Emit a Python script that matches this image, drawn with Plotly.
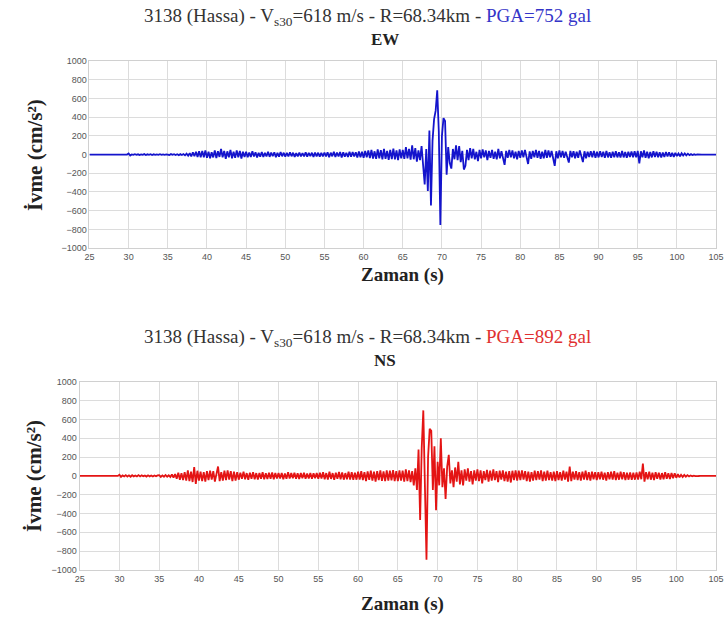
import numpy as np
import plotly.graph_objects as go

# sampling of the digitised records (s)
t_start = 25.0
dt = 0.2

# EW component (cm/s2), one row = 5 s
ew = [
    0, 0, 0, 0, 0, 0, 0, 0, 0, 0, 0, 0, 0, 0, 0, 0, 0, 0, 0, 0, 0, 0, 0, 0, 0,
    12, -10, 2, -3, 4, -2, 3, -4, 2, -3, 5, -4, 3, -2, 4, -5, 3, -2, 2, -3, 4, -3, 2, -2, 3,
    3, -4, 5, -3, 4, -5, 3, -6, 5, -4, 6, -8, 10, -12, 15, -20, 25, -18, 30, -25, 35, -30, 40, -28, 45,
    -35, 30, -40, 25, -30, 45, -38, 35, -25, 60, -30, 40, -45, 35, -30, 50, -40, 30, -35, 45, -28, 38, -42, 30, -25,
    30, -28, 22, -25, 35, -20, 25, -30, 20, -22, 28, -25, 18, -20, 30, -24, 22, -18, 25, -28, 20, -22, 26, -18, 20,
    -22, 18, -20, 25, -18, 20, -24, 16, -20, 22, -18, 15, -20, 24, -22, 18, -16, 20, -25, 22, -18, 20, -22, 18, -20,
    22, -20, 25, -28, 20, -18, 30, -25, 22, -20, 28, -30, 25, -22, 20, -26, 30, -24, 28, -20, 25, -30, 32, -28, 30,
    -35, 40, -30, 45, -38, 50, -42, 35, -45, 55, -40, 48, -50, 60, -45, 40, -55, 50, -48, 65, -50, 45, -60, 55, -40,
    50, -45, 80, -40, 60, -55, 100, -50, 70, -75, 45, -60, 90, -110, -320, 60, -390, 257, -545, 150, 380, 470, 687, 250, -753,
    200, 390, 360, -215, 80, -90, -150, 60, -50, 100, -60, 90, -80, 40, -160, -120, 50, -60, 70, -40, 60, -50, 30, -70, 50,
    -40, 55, -30, 45, -60, 40, -35, 50, -45, 30, -50, 60, -40, 35, -45, -110, 40, -35, 50, -30, 45, -40, 30, -50, 40,
    -35, 45, -30, 50, -40, -100, 35, -45, 40, -30, 50, -35, 40, -45, 30, -40, 50, -35, 45, -30, 40, -45, -120, 35, -40,
    45, -30, 40, -35, 30, -45, -85, 40, -30, 35, -40, 30, -35, 45, -30, -80, 35, -40, 30, -25, 35, -30, 40, -35, 30,
    -30, 35, -25, 30, -35, 40, -30, 25, -35, 30, -28, 35, -30, 25, -32, 38, -30, 28, -35, 30, -25, 32, -28, 35, -30,
    40, -95, 35, -30, 45, -35, 30, -40, 28, -30, 35, -25, 30, -28, 25, -30, 22, -25, 28, -20, 25, -22, 20, -25, 18,
    -15, 12, -18, 14, -10, 12, -8, 10, -6, 5, -4, 3, -2, 2, -1, 1, 0, 0, 0, 0, 0, 0, 0, 0, 0,
    0,
]

# NS component (cm/s2)
ns = [
    0, 0, 0, 0, 0, 0, 0, 0, 0, 0, 0, 0, 0, 0, 0, 0, 0, 0, 0, 0, 0, 0, 0, 0, 0,
    12, -10, 5, -6, 8, -7, 6, -9, 7, -5, 4, -6, 8, -5, 6, -4, 5, -7, 6, -5, 4, -6, 5, -4, 6,
    8, -10, 6, -8, 10, -9, 7, -12, 15, -18, 20, -30, 35, -40, 30, -45, 40, -50, 60, -55, 45, -65, 95, -85, 55,
    -50, 45, -55, 40, -60, 50, -45, 55, -40, 50, -60, 45, 100, -55, 40, -50, 55, -45, 60, -40, 50, -55, 45, -50, 40,
    -40, 35, -30, 45, -35, 30, -40, 35, -30, 40, -35, 30, -38, 32, -30, 40, -35, 28, -32, 35, -30, 38, -35, 30, -28,
    32, -28, 30, -35, 25, -30, 40, -28, 30, -25, 35, -30, 28, -32, 30, -26, 35, -30, 25, -28, 32, -30, 28, -25, 30,
    -30, 35, -28, 40, -35, 30, -38, 45, -32, 30, -40, 35, -30, 42, -35, 38, -40, 30, -35, 45, -38, 40, -42, 35, -40,
    45, -40, 50, -45, 40, -55, 48, -42, 55, -50, 45, -60, 50, -45, 58, -52, 48, -55, 60, -50, 55, -48, 62, -55, 50,
    -55, 60, -50, 55, -60, 70, -55, 60, -65, 50, -100, 80, -150, 280, -470, 300, 697, -300, -892, 200, 500, 480, -150, 315, -365,
    150, -100, 400, -120, 80, -245, 100, 225, -80, 60, -120, 90, -60, 150, -90, 60, -100, 70, -50, 80, -60, 50, -90, 60, -50,
    70, -55, 60, -80, 50, -45, 65, -60, 55, -50, 70, -45, 50, -65, 55, -40, 60, -55, 45, -60, 50, -70, 55, -45, 60,
    -50, 55, -45, 60, -40, 50, -55, 45, -60, 40, -50, 55, -45, 50, -40, 60, -55, 45, -50, 55, -45, 40, -50, 45, -55,
    50, -45, 40, -50, 55, -40, 45, -60, 100, -55, 45, -40, 50, -45, 40, -50, 45, -40, 55, -45, 40, -50, 45, -35, 40,
    -45, 40, -35, 45, -40, 35, -50, 40, -35, 45, -40, 50, -45, 35, -40, 45, -35, 40, -45, 35, -40, 38, -42, 35, -40,
    38, -40, 45, -35, 130, -60, 40, -35, 45, -40, 35, -45, 40, -30, 35, -38, 30, -35, 40, -30, 28, -32, 30, -25, 28,
    -20, 18, -15, 12, -12, 10, -8, 8, -6, 5, -4, 3, -3, 2, -1, 1, 0, 0, 0, 0, 0, 0, 0, 0, 0,
    0,
]

x_ticks = list(range(25, 106, 5))
y_ticks = list(range(-1000, 1001, 200))

station = "3138 (Hassa) - V<sub>s30</sub>=618 m/s - R=68.34km - "
pga_ew = "PGA=752 gal"
pga_ns = "PGA=892 gal"

t = np.round(t_start + dt * np.arange(len(ew)), 1)

W, H = 728, 631
top_dom_y = [1 - 247 / H, 1 - 57 / H]
bot_dom_y = [1 - 574 / H, 1 - 383 / H]
top_dom_x = [86 / W, 724 / W]
bot_dom_x = [76 / W, 724 / W]

fig = go.Figure()
fig.add_trace(go.Scatter(x=t, y=ew, mode="lines", line=dict(color="#1414cc", width=1.8),
                         xaxis="x", yaxis="y", showlegend=False))
fig.add_trace(go.Scatter(x=t, y=ns, mode="lines", line=dict(color="#e41414", width=1.8),
                         xaxis="x2", yaxis="y2", showlegend=False))

tickfont = dict(family="Liberation Sans", size=9, color="#555")
xcommon = dict(range=[25, 105], tickvals=x_ticks, showgrid=True, gridcolor="#dcdcdc",
               showline=True, linecolor="#d0d0d0", mirror=True, zeroline=False,
               tickfont=tickfont, ticks="", ticklabeloverflow="allow")
ycommon = dict(range=[-1000, 1000], tickvals=y_ticks, showgrid=True, gridcolor="#dcdcdc",
               showline=True, linecolor="#d0d0d0", mirror=True, zeroline=False,
               tickfont=tickfont, ticks="")

layout = dict(
    width=W, height=H, margin=dict(l=0, r=0, t=0, b=0),
    paper_bgcolor="white", plot_bgcolor="white",
    xaxis=dict(domain=top_dom_x, anchor="y", **xcommon),
    yaxis=dict(domain=top_dom_y, anchor="x", **ycommon),
    xaxis2=dict(domain=bot_dom_x, anchor="y2", **xcommon),
    yaxis2=dict(domain=bot_dom_y, anchor="x2", **ycommon),
)

# category axis drawn through zero with crossing tick marks
zaxes = {}
n = 3
for base, dom_x, dom_y in [("x", top_dom_x, top_dom_y), ("x2", bot_dom_x, bot_dom_y)]:
    for tk in ["outside", "inside"]:
        zaxes["xaxis%d" % n] = dict(overlaying=base, anchor="free", position=(dom_y[0] + dom_y[1]) / 2,
                                    domain=dom_x, range=[25, 105], tickvals=x_ticks, ticks=tk, ticklen=4,
                                    tickcolor="#333", showline=True, linecolor="#333", linewidth=1,
                                    showgrid=False, zeroline=False, showticklabels=False,
                                    layer="below traces")
        n += 1
layout.update(zaxes)
fig.update_layout(**layout)

serif = "Liberation Serif"
ann = []
for y_t, y_c, y_z, y_lab, pga, col, comp in [
    (1 - 12 / H, 1 - 35 / H, 1 - 274 / H, 1 - 152 / H, pga_ew, "#3434c8", "EW"),
    (1 - 338 / H, 1 - 361 / H, 1 - 609 / H, 1 - 478 / H, pga_ns, "#e03030", "NS"),
]:
    ann.append(dict(text=station + "<span style='color:%s'>%s</span>" % (col, pga),
                    x=369 / W, y=y_t, font=dict(family=serif, size=19, color="#333")))
    ann.append(dict(text="<b>%s</b>" % comp, x=387 / W, y=y_c,
                    font=dict(family=serif, size=17, color="#222")))
    ann.append(dict(text="<b>Zaman (s)</b>", x=405 / W, y=y_z,
                    font=dict(family=serif, size=19, color="#222")))
    ann.append(dict(text="<b>İvme (cm/s²)</b>", x=30 / W, y=y_lab, textangle=-90,
                    font=dict(family=serif, size=21, color="#222")))
for a in ann:
    a.update(xref="paper", yref="paper", showarrow=False, xanchor="center", yanchor="middle")
fig.update_layout(annotations=ann)

fig.write_html("out.html", config={"displayModeBar": False},
               post_script="document.body.style.margin='0';")
